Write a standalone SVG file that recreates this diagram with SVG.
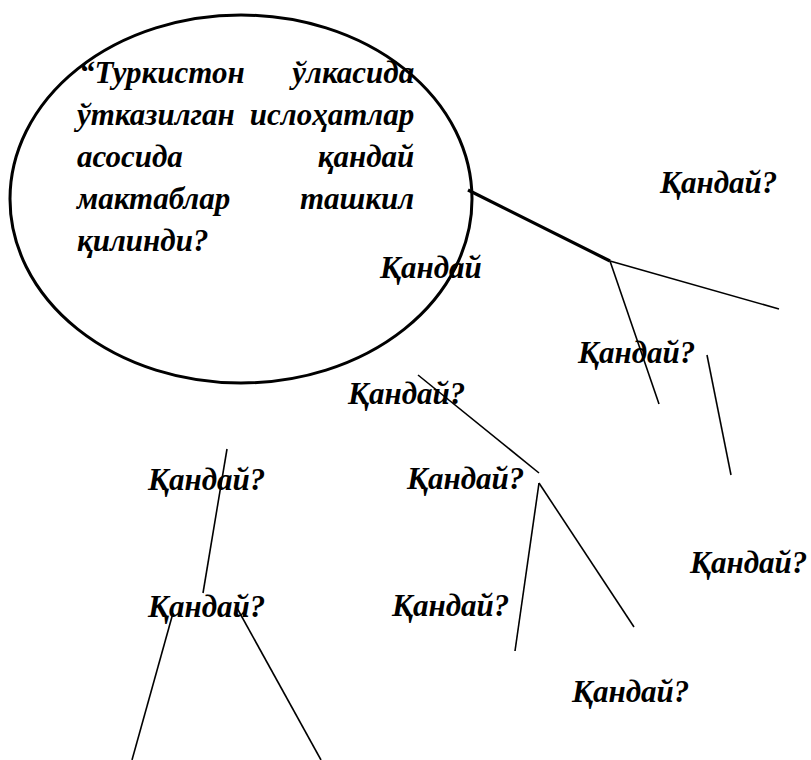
<svg xmlns="http://www.w3.org/2000/svg" width="811" height="760" viewBox="0 0 811 760">
<style>
  text { font-family: "Liberation Serif", "Times New Roman", serif; font-weight: bold; font-style: italic; font-size: 31px; fill: #000; }
  .thin { stroke: #000; stroke-width: 1.6; fill: none; }
  .thick { stroke: #000; stroke-width: 3.2; fill: none; }
</style>
<rect width="811" height="760" fill="#fff"/>
<g id="question">
  <ellipse cx="241" cy="199" rx="231" ry="184" fill="none" stroke="#000" stroke-width="3"/>
  <text>
    <tspan x="79" y="83">“Туркистон</tspan><tspan x="422" y="83" text-anchor="end">ўлкасида</tspan>
    <tspan x="77" y="125">ўтказилган</tspan><tspan x="422" y="125" text-anchor="end">ислоҳатлар</tspan>
    <tspan x="77" y="167">асосида</tspan><tspan x="422" y="167" text-anchor="end">қандай</tspan>
    <tspan x="77" y="209">мактаблар</tspan><tspan x="422" y="209" text-anchor="end">ташкил</tspan>
    <tspan x="77" y="251">қилинди?</tspan>
  </text>
</g>
<g id="connectors">
  <polyline class="thick" points="468,190 610,261"/>
  <line class="thin" x1="610" y1="261" x2="779" y2="309"/>
  <line class="thin" x1="610" y1="261" x2="659" y2="404"/>
  <line class="thin" x1="707" y1="355" x2="731" y2="475"/>
  <line class="thin" x1="418" y1="375" x2="539" y2="473"/>
  <line class="thin" x1="539" y1="483" x2="515" y2="651"/>
  <line class="thin" x1="539" y1="483" x2="634" y2="627"/>
  <line class="thin" x1="227" y1="449" x2="203" y2="593"/>
  <line class="thin" x1="173" y1="613" x2="132" y2="760"/>
  <line class="thin" x1="237" y1="608" x2="321" y2="760"/>
</g>
<g id="label1"><text x="660" y="193">Қандай?</text></g>
<g id="label2"><text x="380" y="278">Қандай</text></g>
<g id="label3"><text x="578" y="363">Қандай?</text></g>
<g id="label4"><text x="348" y="404">Қандай?</text></g>
<g id="label5"><text x="148" y="490">Қандай?</text></g>
<g id="label6"><text x="407" y="489">Қандай?</text></g>
<g id="label7"><text x="690" y="573">Қандай?</text></g>
<g id="label8"><text x="148" y="617">Қандай?</text></g>
<g id="label9"><text x="392" y="616">Қандай?</text></g>
<g id="label10"><text x="572" y="702">Қандай?</text></g>
</svg>
